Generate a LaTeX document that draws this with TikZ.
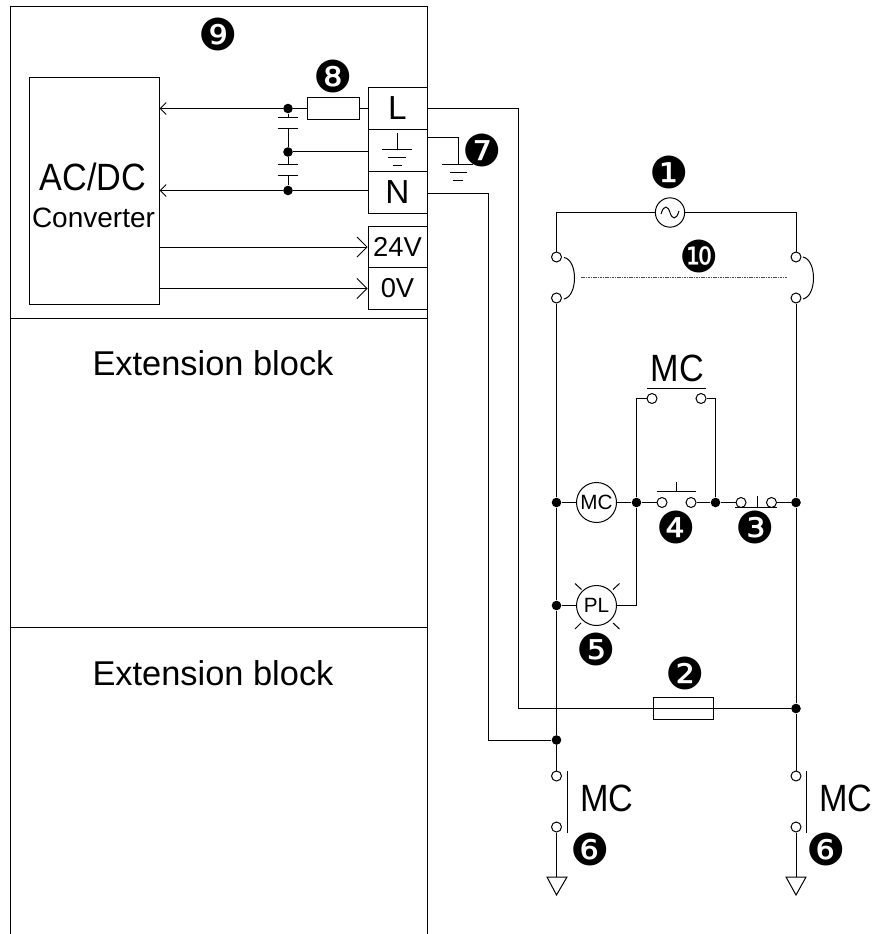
\documentclass[tikz,border=0pt]{standalone}
\usepackage{fontspec}
\setmainfont{Liberation Sans}
\newfontfamily\numfont{DejaVu Sans}
\newfontfamily\tallfont[FakeStretch=0.9]{Liberation Sans}
\usetikzlibrary{arrows.meta}

\tikzset{every picture/.style={line width=0.75pt}}
\tikzset{
	dotnode/.style={circle,fill=black,inner sep=0pt,minimum size=7.2pt},
	opennode/.style={circle,draw,fill=white,inner sep=0pt,minimum size=7.5pt},
	lampnode/.style={circle,draw,inner sep=0pt,minimum size=30pt,font=\fontsize{15.5}{17}\selectfont},
	boxnode/.style={draw,inner sep=0pt,minimum width=44.25pt},
	fusenode/.style={draw,inner sep=0pt},
	numnode/.style={inner sep=0pt,font=\numfont\fontsize{33}{35}\selectfont},
	bigtext/.style={inner sep=0pt,font=\tallfont\fontsize{28.5}{30}\selectfont},
	exttext/.style={inner sep=0pt,font=\fontsize{25.8}{28}\selectfont},
	toobig/.style={-{Straight Barb[length=7.5pt,width=15pt,line width=0.6pt]}},
	tooleft/.style={-{Straight Barb[length=4.5pt,width=9pt,line width=0.6pt]}},
}

\begin{document}
\begin{tikzpicture}[x=0.75pt,y=0.75pt,yscale=-1,xscale=1]
	\useasboundingbox (0,0) rectangle (883,934);

	%Shape: PLC housing
	\draw (10.5,934) -- (10.5,6.5) -- (427.5,6.5) -- (427.5,934) ;
	\draw (10.5,318) -- (427.5,318) ;
	\draw (10.5,627) -- (427.5,627) ;

	% Text Node
	\node[draw,inner sep=0pt,minimum width=97pt,minimum height=170pt] (convBox) at (94.5,191) {};
	\node[bigtext] (convTop) at (93,177) {AC/DC};
	\node[inner sep=0pt,font=\fontsize{21}{23}\selectfont] (convLow) at (93.5,218) {Converter};
	% Text Node
	\node[boxnode,minimum height=31pt,font=\fontsize{25}{27}\selectfont] (termL) at (397.5,108.5) {L};
	\node[boxnode,minimum height=32pt] (termE) at (397.5,150.5) {};
	\node[boxnode,minimum height=31pt,font=\fontsize{25}{27}\selectfont] (termN) at (397.5,192.5) {N};
	\node[boxnode,minimum height=30pt,font=\fontsize{20.5}{22}\selectfont] (term24) at (397.5,247) {24V};
	\node[boxnode,minimum height=31pt,font=\fontsize{20.5}{22}\selectfont] (term0) at (397.5,288.5) {0V};
	% Text Node
	\node[fusenode,minimum width=39pt,minimum height=16pt] (fuseIn) at (333,108.5) {};
	\node[dotnode] (dotL) at (288,108.5) {};
	\node[dotnode] (dotE) at (288,152) {};
	\node[dotnode] (dotN) at (288,190.5) {};

	%Straight Lines: input side
	\draw (termL) -- (fuseIn) ;
	\draw (fuseIn) -- (dotL) ;
	\draw [tooleft] (dotL) -- (dotL -| convBox.east) ;
	\draw (dotE) -- (dotE -| termE.west) ;
	\draw [tooleft] (dotN) -- (dotN -| convBox.east) ;
	\draw (dotN) -- (dotN -| termN.west) ;
	\draw [toobig] (term24.west -| convBox.east) -- (term24.west) ;
	\draw [toobig] (term0.west -| convBox.east) -- (term0.west) ;
	\draw [line width=1.2pt] (199,108.5) -- (213,108.5) ;

	%Straight Lines: capacitors
	\coordinate (capA) at (288,118) ;
	\coordinate (capB) at (288,129) ;
	\coordinate (capC) at (288,165) ;
	\coordinate (capD) at (288,176) ;
	\draw (dotL) -- (capA) ;
	\draw (capB) -- (dotE) ;
	\draw (dotE) -- (capC) ;
	\draw (capD) -- (dotN) ;
	\draw (278,118) -- (298,118) ;
	\draw (278,129) -- (298,129) ;
	\draw (278,165) -- (298,165) ;
	\draw (278,176) -- (298,176) ;

	%Shape: earth in terminal
	\draw (397,133) -- (397,150) ;
	\draw (382,150) -- (412,150) ;
	\draw (388,158) -- (406,158) ;
	\draw (393,166) -- (402,166) ;
	%Shape: earth outside
	\draw (427.5,138) -- (458,138) -- (458,165) ;
	\draw (442,165) -- (473,165) ;
	\draw (450,173) -- (467,173) ;
	\draw (453,181) -- (463,181) ;

	% Text Node
	\node[circle,draw,inner sep=0pt,minimum size=22pt] (acSrc) at (670,212.5) {};
	\draw (661,214) .. controls (664,204) and (668,206) .. (670,212.5) .. controls (672,219) and (676,221) .. (679,211) ;
	\node[opennode] (swLt) at (556.5,257) {};
	\node[opennode] (swLb) at (556.5,298) {};
	\node[opennode] (swRt) at (796,257) {};
	\node[opennode] (swRb) at (796,298) {};
	\node[dotnode] (dotCoil) at (556.5,502.5) {};
	\node[dotnode] (dotLamp) at (556.5,605.5) {};
	\node[dotnode] (dotJoin) at (636.5,502.5) {};
	\node[dotnode] (dotHold) at (715.5,502.5) {};
	\node[dotnode] (dotRail) at (796,502.5) {};
	\node[dotnode] (dotFuse) at (796,708.5) {};
	\node[dotnode] (dotNret) at (556.5,740) {};
	\node[lampnode] (coilMC) at (596.5,502.5) {MC};
	\node[lampnode] (lampPL) at (596.5,605.5) {PL};
	\node[opennode] (hldL) at (652,398.5) {};
	\node[opennode] (hldR) at (701,398.5) {};
	\node[opennode] (pbOnL) at (662,502.5) {};
	\node[opennode] (pbOnR) at (691,502.5) {};
	\node[opennode] (pbOffL) at (741,502.5) {};
	\node[opennode] (pbOffR) at (771.5,502.5) {};
	\node[opennode] (mcLt) at (556.5,776) {};
	\node[opennode] (mcLb) at (556.5,827) {};
	\node[opennode] (mcRt) at (796,776) {};
	\node[opennode] (mcRb) at (796,827) {};
	\node[fusenode,minimum width=45pt,minimum height=16pt] (fuseOut) at (683,708.5) {};

	%Straight Lines: mains
	\draw (acSrc) -- (swLt |- acSrc) -- (swLt) ;
	\draw (acSrc) -- (swRt |- acSrc) -- (swRt) ;
	\draw (swLb) -- (dotCoil) ;
	\draw (dotCoil) -- (dotLamp) ;
	\draw (dotLamp) -- (dotNret) ;
	\draw (dotNret) -- (mcLt) ;
	\draw (swRb) -- (dotRail) ;
	\draw (dotRail) -- (dotFuse) ;
	\draw (dotFuse) -- (mcRt) ;
	\draw (termL.east) -- (518,108.5) -- (518,708.5) -- (dotFuse) ;
	\draw (termN.east |- 0,193.5) -- (488,193.5) -- (488,740) -- (dotNret) ;

	%Straight Lines: control rung
	\draw (dotCoil) -- (coilMC) ;
	\draw (coilMC) -- (dotJoin) ;
	\draw (dotJoin) -- (pbOnL) ;
	\draw (pbOnR) -- (dotHold) ;
	\draw (dotHold) -- (pbOffL) ;
	\draw (pbOffR) -- (dotRail) ;
	\draw (dotJoin) -- (dotJoin |- hldL) -- (hldL) ;
	\draw (dotHold) -- (dotHold |- hldR) -- (hldR) ;
	\draw (dotLamp) -- (lampPL) ;
	\draw (lampPL) -- (dotJoin |- lampPL) -- (dotJoin) ;

	%Shape: contact bars
	\draw (647,388) -- (706,388) ;
	\draw (657,491.5) -- (696,491.5) ;
	\draw (676.5,482) -- (676.5,491.5) ;
	\draw (735,507.5) -- (777,507.5) ;
	\draw (757,496) -- (757,507.5) ;
	\draw (567,771) -- (567,833) ;
	\draw (806,771) -- (806,833) ;

	%Shape: lamp rays
	\draw (575,583.5) -- (581.5,589.5) ;
	\draw (619.5,583.5) -- (613,589.5) ;
	\draw (575,629) -- (581,623) ;
	\draw (619.5,629) -- (613,623) ;

	%Shape: bridges
	\draw (564,257.5) .. controls (578,260) and (578,296) .. (564,299) ;
	\draw (803,257) .. controls (817,260) and (817,296) .. (803,299) ;
	\draw [dash pattern={on 1.2pt off 0.6pt},line width=0.9pt,black!70] (581,277.5) -- (787,277.5) ;

	%Shape: loads
	\coordinate (gndL) at (556.5,877) ;
	\coordinate (gndR) at (796,877) ;
	\draw (mcLb) -- (gndL) ;
	\draw (mcRb) -- (gndR) ;
	\draw (547,877) -- (567,877) -- (556.5,895) -- cycle ;
	\draw (786,877) -- (806,877) -- (796,895) -- cycle ;

	% Text Node
	\node[exttext] (extA) at (213,363) {Extension block};
	\node[exttext] (extB) at (213,673) {Extension block};
	\node[bigtext] (txtMCa) at (677.5,368) {MC};
	\node[bigtext] (txtMCb) at (607,798) {MC};
	\node[bigtext] (txtMCc) at (846,798) {MC};
	% Text Node
	\node[numnode] (numA) at (669,172) {❶};
	\node[numnode] (numB) at (685,673) {❷};
	\node[numnode] (numC) at (755,527.5) {❸};
	\node[numnode] (numD) at (676.5,527.5) {❹};
	\node[numnode] (numE) at (596,649) {❺};
	\node[numnode] (numF) at (590,849) {❻};
	\node[numnode] (numG) at (826,849) {❻};
	\node[numnode] (numH) at (482,150) {❼};
	\node[numnode] (numI) at (333,76) {❽};
	\node[numnode] (numJ) at (218,34) {❾};
	\node[numnode] (numK) at (699,256) {❿};

\end{tikzpicture}
\end{document}
